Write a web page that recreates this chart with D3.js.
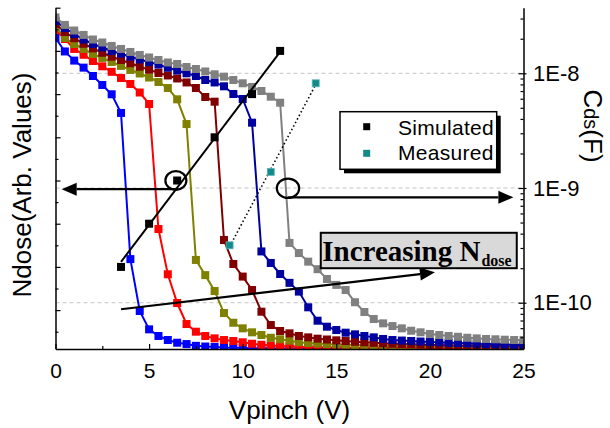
<!DOCTYPE html>
<html>
<head>
<meta charset="utf-8">
<script src="https://cdn.jsdelivr.net/npm/d3@7"></script>
<style>
  body { margin: 0; background: #fff; }
  svg { font-family: "Liberation Sans", Arial, sans-serif; }
</style>
</head>
<body>
<div id="chart"></div>
<script>
// Vpinch (V), one marker every 0.5 V
const vpinch = [0, 0.5, 1, 1.5, 2, 2.5, 3, 3.5, 4, 4.5, 5, 5.5, 6, 6.5, 7, 7.5, 8, 8.5, 9, 9.5,
  10, 10.5, 11, 11.5, 12, 12.5, 13, 13.5, 14, 14.5, 15, 15.5, 16, 16.5, 17, 17.5, 18, 18.5, 19, 19.5,
  20, 20.5, 21, 21.5, 22, 22.5, 23, 23.5, 24, 24.5, 25];

// Cds in pF, one array per Ndose (lowest dose first)
const cdsBlue = [20300, 15500, 12900, 11200, 9470, 7910, 6560, 4510,
  240, 84.7, 58.6, 51.3, 47.3, 44.8, 43.6, 42.1, 41.5, 41.1, 40.7, 40.5, 40.3, 40.2, 40.1, 40.0,
  39.9, 39.9, 39.8, 39.8, 39.7, 39.7, 39.6, 39.6, 39.5, 39.5, 39.5, 39.4, 39.4, 39.4, 39.3, 39.3,
  39.3, 39.2, 39.2, 39.2, 39.1, 39.1, 39.1, 39.0, 39.0, 39.0, 39.0];
const cdsRed = [23900, 19900, 16300, 14500, 12800, 11500, 10300, 9100, 8070, 6800, 5400,
  439, 177, 99.4, 65.2, 55.9, 51.3, 48.9, 47.3, 46.4, 45.2, 43.9, 43.0, 42.4, 41.9, 41.7, 41.4,
  41.2, 41.0, 40.9, 40.8, 40.7, 40.6, 40.5, 40.5, 40.4, 40.3, 40.3, 40.2, 40.2, 40.1, 40.1, 40.0,
  40.0, 40.0, 39.9, 39.9, 39.9, 39.8, 39.8, 39.8];
const cdsOlive = [25300, 20300, 18000, 16300, 14700, 13600, 12550, 11600, 10700, 9960, 9190,
  8400, 7440, 5930, 3610,
  236, 174, 126.5, 81.3, 66.9, 59.8, 55.2, 52.3, 49.5, 48.0, 46.7, 45.2, 44.5, 44.1, 43.6, 43.3,
  43.0, 42.7, 42.5, 42.3, 42.1, 41.9, 41.8, 41.7, 41.6, 41.5, 41.4, 41.3, 41.2, 41.1, 41.1, 41.0,
  41.0, 40.9, 40.9, 40.8];
const cdsDarkRed = [26900, 22900, 20200, 18100, 16500, 15100, 13950, 13060, 12230, 11420, 10750,
  10060, 9570, 9010, 8320, 7440, 6215, 5655,
  352, 217.5, 169, 129, 83.5, 63.9, 56.7, 54.1, 51.3, 49.9, 48.6, 47.8, 47.0, 46.4, 45.7, 45.2,
  44.7, 44.3, 43.9, 43.6, 43.4, 43.1, 42.9, 42.7, 42.5, 42.3, 42.2, 42.0, 41.9, 41.8, 41.7, 41.6, 41.5];
const cdsNavy = [28600, 24800, 22000, 19700, 18000, 16800, 15650, 14800, 13950, 13200, 12550,
  11890, 11190, 10580, 10000, 9470, 8740, 8320, 7700, 6600, 5970, 3710,
  280, 222, 178, 149, 125, 91.2, 69.7, 61.8, 57.8, 54.8, 53.0, 51.3, 49.9, 48.3, 47.3, 46.8, 46.4,
  45.9, 45.4, 45.2, 44.8, 44.5, 44.3, 43.9, 43.6, 43.4, 43.2, 43.0, 42.8];
const cdsGray = [30700, 26400, 23600, 21600, 19700, 18550, 17300, 16300, 15340, 14440, 13730,
  13060, 12420, 12050, 11350, 10900, 10370, 9800, 9340, 8740, 8180, 7600, 7010, 6250, 5540,
  332, 271, 228, 196, 161, 143, 129, 101, 83, 72.1, 66.1, 62.6, 59.8, 57.0, 55.2, 53.4, 52.3,
  51.3, 50.5, 49.5, 48.9, 48.3, 48.0, 47.6, 47.3, 47.3];

const series = [
  { color: "#0000ff", values: cdsBlue },
  { color: "#ff0000", values: cdsRed },
  { color: "#808000", values: cdsOlive },
  { color: "#800000", values: cdsDarkRed },
  { color: "#0000a0", values: cdsNavy },
  { color: "#808080", values: cdsGray }
];

// Ndose (arb.) against the pinch-off voltage
const simV = [3.5, 5, 6.5, 8.5, 10.5, 12];
const simN = [4, 6, 8, 10, 12, 14];
const measV = [9.3, 11.5, 13.9];
const measN = [5, 8.4, 12.5];

const xTicks = [0, 5, 10, 15, 20, 25];
const xMinor = [2.5, 7.5, 12.5, 17.5, 22.5];
const cdsTicks = [100, 1000, 10000];
const cdsTickLabels = ["1E-10", "1E-9", "1E-8"];
const ndoseTicks = [2, 4, 6, 8, 10, 12, 14, 16];
const ndoseMinor = [1, 3, 5, 7, 9, 11, 13, 15];

const margin = { top: 7.7, right: 86.5, bottom: 79, left: 55.5 };
const width = 610 - margin.left - margin.right;
const height = 428 - margin.top - margin.bottom;

const svg = d3.select("#chart").append("svg")
  .attr("width", 610)
  .attr("height", 428);

const g = svg.append("g")
  .attr("transform", `translate(${margin.left},${margin.top})`);

const x = d3.scaleLinear().domain([0, 25]).range([0, width]);
const yN = d3.scaleLinear().domain([0.2, 16]).range([height, 0]);
const yC = d3.scaleLog().domain([39.5, 37300]).range([height, 0]);

svg.append("defs").append("clipPath").attr("id", "plotClip")
  .append("rect").attr("x", 0).attr("y", -8).attr("width", width).attr("height", height + 8);

// dashed grid at the decades
g.selectAll(".grid")
  .data(cdsTicks)
  .join("line")
  .attr("x1", 0).attr("x2", width)
  .attr("y1", (d) => yC(d)).attr("y2", (d) => yC(d))
  .attr("stroke", "#c4c4c4")
  .attr("stroke-width", 1)
  .attr("stroke-dasharray", "4,3");

// Cds curves
const curves = g.append("g").attr("clip-path", "url(#plotClip)");
const cdsLine = d3.line()
  .x((d, i) => x(vpinch[i]))
  .y((d) => yC(d));

series.forEach((s) => {
  curves.append("path")
    .datum(s.values)
    .attr("fill", "none")
    .attr("stroke", s.color)
    .attr("stroke-width", 2)
    .attr("d", cdsLine);
  curves.selectAll(null)
    .data(s.values)
    .join("rect")
    .attr("x", (d, i) => x(vpinch[i]) - 4)
    .attr("y", (d) => yC(d) - 4)
    .attr("width", 8)
    .attr("height", 8)
    .attr("fill", s.color);
});

// linear fit of Ndose vs Vpinch
function fit(xs, ys) {
  const mx = d3.mean(xs), my = d3.mean(ys);
  const b = d3.sum(xs, (v, i) => (v - mx) * (ys[i] - my)) / d3.sum(xs, (v) => (v - mx) ** 2);
  return (v) => my + b * (v - mx);
}
const simFit = fit(simV, simN);
const measFit = fit(measV, measN);

g.append("line")
  .attr("x1", x(d3.min(simV))).attr("y1", yN(simFit(d3.min(simV))))
  .attr("x2", x(d3.max(simV))).attr("y2", yN(simFit(d3.max(simV))))
  .attr("stroke", "#000").attr("stroke-width", 2);

g.append("line")
  .attr("x1", x(d3.min(measV))).attr("y1", yN(measFit(d3.min(measV))))
  .attr("x2", x(d3.max(measV))).attr("y2", yN(measFit(d3.max(measV))))
  .attr("stroke", "#000").attr("stroke-width", 1.6)
  .attr("stroke-dasharray", "1.5,2.5");

g.selectAll(".sim")
  .data(simV)
  .join("rect")
  .attr("x", (d) => x(d) - 4)
  .attr("y", (d, i) => yN(simN[i]) - 4)
  .attr("width", 8).attr("height", 8)
  .attr("fill", "#000");

g.selectAll(".meas")
  .data(measV)
  .join("rect")
  .attr("x", (d) => x(d) - 3.5)
  .attr("y", (d, i) => yN(measN[i]) - 3.5)
  .attr("width", 7).attr("height", 7)
  .attr("fill", "#128a8a")
  .attr("stroke", "#5fb3b3")
  .attr("stroke-width", 0.8);

// axes (ticks point inward)
function styleAxis(sel) {
  sel.select(".domain").attr("stroke-width", 1.5);
  sel.selectAll(".tick line").attr("stroke-width", 1.2);
  sel.selectAll("text").attr("font-size", 21).attr("fill", "#000")
    .attr("font-family", "Liberation Sans, Arial, sans-serif");
}

g.append("g")
  .attr("transform", `translate(0,${height})`)
  .call(d3.axisBottom(x).tickValues(xTicks).tickSizeInner(-5).tickSizeOuter(0).tickPadding(14))
  .call(styleAxis);

g.append("g")
  .attr("transform", `translate(0,${height})`)
  .call(d3.axisBottom(x).tickValues(xMinor).tickSizeInner(-3).tickSizeOuter(0).tickFormat(""))
  .call(styleAxis)
  .call((a) => a.select(".domain").remove());

g.append("g")
  .call(d3.axisRight(yN).tickValues(ndoseTicks).tickSizeInner(5).tickSizeOuter(0).tickFormat(""))
  .call(styleAxis);

g.append("g")
  .call(d3.axisRight(yN).tickValues(ndoseMinor).tickSizeInner(3).tickSizeOuter(0).tickFormat(""))
  .call(styleAxis)
  .call((a) => a.select(".domain").remove());

const cdsMinor = yC.ticks().filter((d) => Math.abs(Math.log10(d) - Math.round(Math.log10(d))) > 1e-6);

g.append("g")
  .attr("transform", `translate(${width},0)`)
  .call(d3.axisRight(yC).tickValues(cdsTicks).tickSizeInner(3).tickSizeOuter(0).tickPadding(6.5)
    .tickFormat((d, i) => cdsTickLabels[i]))
  .call(styleAxis)
  .call((a) => a.selectAll("text").attr("font-size", 22));

g.append("g")
  .attr("transform", `translate(${width},0)`)
  .call(d3.axisLeft(yC).tickValues(cdsTicks).tickSizeInner(5).tickSizeOuter(0).tickFormat(""))
  .call(styleAxis)
  .call((a) => a.select(".domain").remove());

g.append("g")
  .attr("transform", `translate(${width},0)`)
  .call(d3.axisLeft(yC).tickValues(cdsMinor).tickSizeInner(3).tickSizeOuter(0).tickFormat(""))
  .call(styleAxis)
  .call((a) => a.select(".domain").remove());

// axis titles
svg.append("text")
  .attr("x", margin.left + width / 2)
  .attr("y", 419)
  .attr("text-anchor", "middle")
  .attr("font-size", 26)
  .text("Vpinch (V)");

svg.append("text")
  .attr("transform", "translate(31,185) rotate(-90)")
  .attr("text-anchor", "middle")
  .attr("font-size", 26)
  .text("Ndose(Arb. Values)");

const cdsTitle = svg.append("text")
  .attr("transform", "translate(584,126) rotate(90)")
  .attr("text-anchor", "middle")
  .attr("font-size", 26);
cdsTitle.append("tspan").text("C");
cdsTitle.append("tspan").attr("font-size", 20).text("ds");
cdsTitle.append("tspan").text("(F)");

// annotations: circles and arrows
function arrow(x1, y1, x2, y2) {
  const a = Math.atan2(y2 - y1, x2 - x1);
  const len = 15, half = 6.5;
  const bx = x2 - len * Math.cos(a), by = y2 - len * Math.sin(a);
  g.append("line")
    .attr("x1", x1).attr("y1", y1).attr("x2", bx).attr("y2", by)
    .attr("stroke", "#000").attr("stroke-width", 2.2);
  g.append("path")
    .attr("d", d3.line()([
      [x2, y2],
      [bx + half * Math.sin(a), by - half * Math.cos(a)],
      [bx - half * Math.sin(a), by + half * Math.cos(a)]
    ]) + "Z")
    .attr("fill", "#000");
}

g.append("ellipse")
  .attr("cx", x(6.43)).attr("cy", yN(8))
  .attr("rx", 10.5).attr("ry", 9.3)
  .attr("fill", "none").attr("stroke", "#000").attr("stroke-width", 2.2);
arrow(x(6.54), yN(7.6), x(0.33), yN(7.6));

g.append("ellipse")
  .attr("cx", x(12.42)).attr("cy", yN(7.64))
  .attr("rx", 11.2).attr("ry", 9.7)
  .attr("fill", "none").attr("stroke", "#000").attr("stroke-width", 2.2);
arrow(x(12.4), yN(7.22), x(24.46), yN(7.22));

arrow(x(3.5), yN(2.04), x(20.27), yN(3.75));

// "Increasing Ndose" box
g.append("rect")
  .attr("x", x(14.17)).attr("y", yN(5.58))
  .attr("width", x(24.64) - x(14.17)).attr("height", yN(3.94) - yN(5.58))
  .attr("fill", "#d9d9d9").attr("stroke", "#000").attr("stroke-width", 2);

const incText = g.append("text")
  .attr("x", x(14.17) + 1.5)
  .attr("y", yN(3.94) - 6.8)
  .attr("font-family", "Liberation Serif, Times New Roman, serif")
  .attr("font-weight", "bold")
  .attr("font-size", 29);
incText.append("tspan").text("Increasing N");
incText.append("tspan").attr("font-size", 16).attr("dy", 4.5).attr("dx", 1).text("dose");

// legend
const legend = svg.append("g").attr("transform", "translate(340,111.7)");
legend.append("rect")
  .attr("x", 4).attr("y", 4).attr("width", 156.7).attr("height", 57.6)
  .attr("fill", "#000");
legend.append("rect")
  .attr("width", 156.7).attr("height", 57.6)
  .attr("fill", "#fff").attr("stroke", "#000").attr("stroke-width", 1.5);

const legendItems = [
  { label: "Simulated", fill: "#000" },
  { label: "Measured", fill: "#128a8a" }
];
legendItems.forEach((d, i) => {
  legend.append("rect")
    .attr("x", 23.2).attr("y", 11.5 + i * 26.6)
    .attr("width", 7).attr("height", 7)
    .attr("fill", d.fill);
  legend.append("text")
    .attr("x", 58)
    .attr("y", 23.3 + i * 25)
    .attr("font-size", 21)
    .attr("letter-spacing", 0.3)
    .text(d.label);
});
</script>
</body>
</html>
